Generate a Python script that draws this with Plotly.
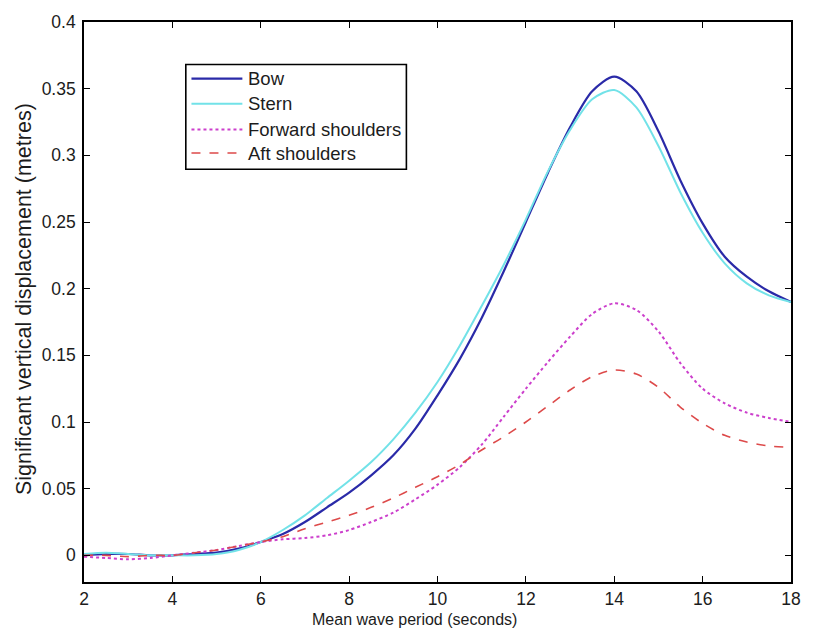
import plotly.graph_objects as go

# Mean wave period (s)
period = [2, 2.5, 3, 3.5, 4, 4.5, 5, 5.5, 6, 6.5, 7, 7.5, 8, 8.5, 9, 9.5, 10,
          10.5, 11, 11.5, 12, 12.5, 13, 13.5, 14, 14.5, 15, 15.5, 16, 16.5, 17, 17.5, 18]

# Significant vertical displacement (m) at each location
bow = [0.000, 0.001, 0.001, 0.000, 0.000, 0.001, 0.002, 0.005, 0.010, 0.016, 0.025, 0.036,
       0.047, 0.060, 0.075, 0.095, 0.120, 0.147, 0.178, 0.213, 0.250, 0.287, 0.321, 0.348,
       0.359, 0.348, 0.318, 0.281, 0.249, 0.224, 0.209, 0.198, 0.190]
stern = [0.001, 0.002, 0.001, 0.000, 0.000, 0.000, 0.001, 0.004, 0.010, 0.019, 0.030, 0.043,
         0.056, 0.070, 0.087, 0.107, 0.130, 0.157, 0.187, 0.218, 0.252, 0.288, 0.319, 0.342,
         0.349, 0.336, 0.307, 0.272, 0.242, 0.219, 0.204, 0.195, 0.190]
fwd_shoulders = [-0.001, -0.002, -0.003, -0.002, 0.000, 0.002, 0.004, 0.007, 0.010, 0.012,
                 0.013, 0.015, 0.019, 0.025, 0.032, 0.042, 0.053, 0.066, 0.083, 0.104, 0.125,
                 0.145, 0.164, 0.181, 0.189, 0.184, 0.168, 0.144, 0.125, 0.114, 0.107, 0.103, 0.100]
aft_shoulders = [0.000, 0.000, -0.001, 0.000, 0.000, 0.002, 0.004, 0.007, 0.010, 0.014, 0.020,
                 0.025, 0.030, 0.036, 0.043, 0.051, 0.059, 0.068, 0.079, 0.089, 0.100, 0.112,
                 0.124, 0.134, 0.139, 0.136, 0.126, 0.111, 0.099, 0.090, 0.085, 0.082, 0.081]

x_ticks = [2, 4, 6, 8, 10, 12, 14, 16, 18]
y_ticks = [0, 0.05, 0.1, 0.15, 0.2, 0.25, 0.3, 0.35, 0.4]
y_tick_text = ["0", "0.05", "0.1", "0.15", "0.2", "0.25", "0.3", "0.35", "0.4"]

FONT = "Liberation Sans, Arial, sans-serif"
TEXT_COLOR = "#1c1c1c"

series = [
    ("Bow", bow, dict(color="#2a2aa8", width=2.2, dash="solid")),
    ("Stern", stern, dict(color="#72e2e8", width=2.0, dash="solid")),
    ("Forward shoulders", fwd_shoulders, dict(color="#cc3fcc", width=2.0, dash="dot")),
    ("Aft shoulders", aft_shoulders, dict(color="#dd4a4a", width=1.6, dash="9px,9px")),
]

fig = go.Figure()
for name, ys, line in series:
    fig.add_trace(go.Scatter(x=period, y=ys, mode="lines", name=name, showlegend=False,
                             line=dict(shape="spline", smoothing=0.8, **line)))

axis_common = dict(
    showline=True, linecolor="black", linewidth=1.6, mirror="ticks",
    ticks="inside", ticklen=6, tickcolor="black", tickwidth=1.2,
    showgrid=False, zeroline=False,
    tickfont=dict(family=FONT, size=17.5, color=TEXT_COLOR),
)

# Boxed legend in the upper-left of the axes (paper coordinates)
lg_x0, lg_x1, lg_y0, lg_y1 = 0.144, 0.456, 0.737, 0.924
row_y = [0.899, 0.854, 0.808, 0.766]
shapes = [dict(type="rect", xref="paper", yref="paper", x0=lg_x0, x1=lg_x1,
               y0=lg_y0, y1=lg_y1, line=dict(color="black", width=1.6),
               fillcolor="white", layer="above")]
annotations = []
for (name, _, line), ry in zip(series, row_y):
    shapes.append(dict(type="line", xref="paper", yref="paper", x0=0.152, x1=0.224,
                       y0=ry, y1=ry, layer="above",
                       line=dict(color=line["color"], width=line["width"],
                                 dash=line["dash"] if line["dash"] != "9px,9px" else "dash")))
    annotations.append(dict(text=name, xref="paper", yref="paper", x=0.229, y=ry,
                            xanchor="left", yanchor="middle", showarrow=False,
                            font=dict(family=FONT, size=18.5, color=TEXT_COLOR)))

# Axis titles
annotations.append(dict(text="Mean wave period (seconds)", xref="paper", yref="paper",
                        x=0.467, y=-0.0675, xanchor="center", yanchor="middle",
                        showarrow=False, font=dict(family=FONT, size=16, color=TEXT_COLOR)))
annotations.append(dict(text="Significant vertical displacement (metres)", xref="paper",
                        yref="paper", x=-0.085, y=0.505, xanchor="center", yanchor="middle",
                        textangle=-90, showarrow=False,
                        font=dict(family=FONT, size=21.5, color=TEXT_COLOR)))

fig.update_layout(
    width=813, height=633,
    margin=dict(l=84, r=12, t=19, b=51),
    paper_bgcolor="white", plot_bgcolor="white",
    font=dict(family=FONT, color=TEXT_COLOR),
    xaxis=dict(range=[2, 18], tickvals=x_ticks, ticklabelstandoff=0, **axis_common),
    yaxis=dict(range=[-0.02, 0.4], tickvals=y_ticks, ticktext=y_tick_text,
               ticklabelstandoff=3, **axis_common),
    shapes=shapes,
    annotations=annotations,
    showlegend=False,
)

fig.write_html("out.html")
